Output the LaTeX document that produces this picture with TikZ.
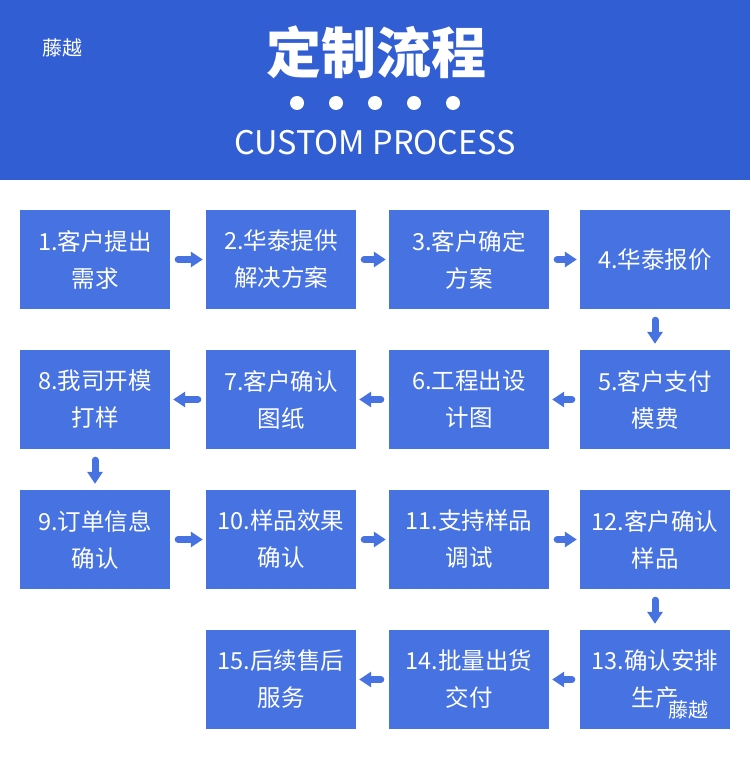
\documentclass[tikz,border=0pt]{standalone}
\usepackage{fontspec}
\setmainfont{Noto Sans CJK SC}
\newfontfamily\cjk{Noto Sans CJK SC}
\usetikzlibrary{arrows.meta}
\definecolor{hdrblue}{RGB}{50,94,211}
\definecolor{boxblue}{RGB}{70,114,226}
\tikzset{
  stepbox/.style={fill=boxblue, draw=none, minimum width=150pt, minimum height=99pt, inner sep=0pt,
    text=white, align=center, font=\cjk\fontsize{23.5}{37}\selectfont},
  widebox/.style={stepbox, minimum width=160pt},
  flowarrow/.style={draw=boxblue, line width=7pt, line cap=round,
    -{Triangle[width=15pt,length=12pt]}},
  harr/.style={flowarrow, shorten <=8pt, shorten >=3pt},
  varr/.style={flowarrow, shorten <=11pt, shorten >=6pt},
}
\begin{document}
\begin{tikzpicture}[x=1pt,y=-1pt]
\useasboundingbox (0,0) rectangle (750,762);
\fill[white] (0,0) rectangle (750,762);
% header
\fill[hdrblue] (0,0) rectangle (750,180);
\node[text=white, font=\cjk\fontsize{20}{20}\selectfont] (mark1) at (62,48) {藤越};
\node[text=white, font=\cjk\bfseries\fontsize{55}{55}\selectfont] (title) at (376,52) {定制流程};
\foreach \i/\xx in {1/297,2/336,3/375,4/414,5/453}{
  \fill[white] (\xx,103) circle (7pt);
}
\node[text=white, font=\cjk\fontsize{32.5}{32.5}\selectfont] (subtitle) at (375,143) {CUSTOM PROCESS};
% boxes
\node[stepbox] (b1) at (95,259.5) {1.客户提出\\需求};
\node[stepbox] (b2) at (281,259.5) {2.华泰提供\\解决方案};
\node[widebox] (b3) at (469,259.5) {3.客户确定\\方案};
\node[stepbox] (b4) at (655,259.5) {4.华泰报价};
\node[stepbox] (b8) at (95,399.5) {8.我司开模\\打样};
\node[stepbox] (b7) at (281,399.5) {7.客户确认\\图纸};
\node[widebox] (b6) at (469,399.5) {6.工程出设\\计图};
\node[stepbox] (b5) at (655,399.5) {5.客户支付\\模费};
\node[stepbox] (b9) at (95,539.5) {9.订单信息\\确认};
\node[stepbox] (b10) at (281,539.5) {10.样品效果\\确认};
\node[widebox] (b11) at (469,539.5) {11.支持样品\\调试};
\node[stepbox] (b12) at (655,539.5) {12.客户确认\\样品};
\node[stepbox] (b15) at (281,679.5) {15.后续售后\\服务};
\node[widebox] (b14) at (469,679.5) {14.批量出货\\交付};
\node[stepbox] (b13) at (655,679.5) {13.确认安排\\生产};
\node[text=white, font=\cjk\fontsize{20}{20}\selectfont] (mark2) at (688,710) {藤越};
% arrows
\draw[harr] (b1.east) -- (b2.west);
\draw[harr] (b2.east) -- (b3.west);
\draw[harr] (b3.east) -- (b4.west);
\draw[varr] (b4.south) -- (b5.north);
\draw[harr] (b5.west) -- (b6.east);
\draw[harr] (b6.west) -- (b7.east);
\draw[harr] (b7.west) -- (b8.east);
\draw[varr] (b8.south) -- (b9.north);
\draw[harr] (b9.east) -- (b10.west);
\draw[harr] (b10.east) -- (b11.west);
\draw[harr] (b11.east) -- (b12.west);
\draw[varr] (b12.south) -- (b13.north);
\draw[harr] (b13.west) -- (b14.east);
\draw[harr] (b14.west) -- (b15.east);
\end{tikzpicture}
\end{document}
